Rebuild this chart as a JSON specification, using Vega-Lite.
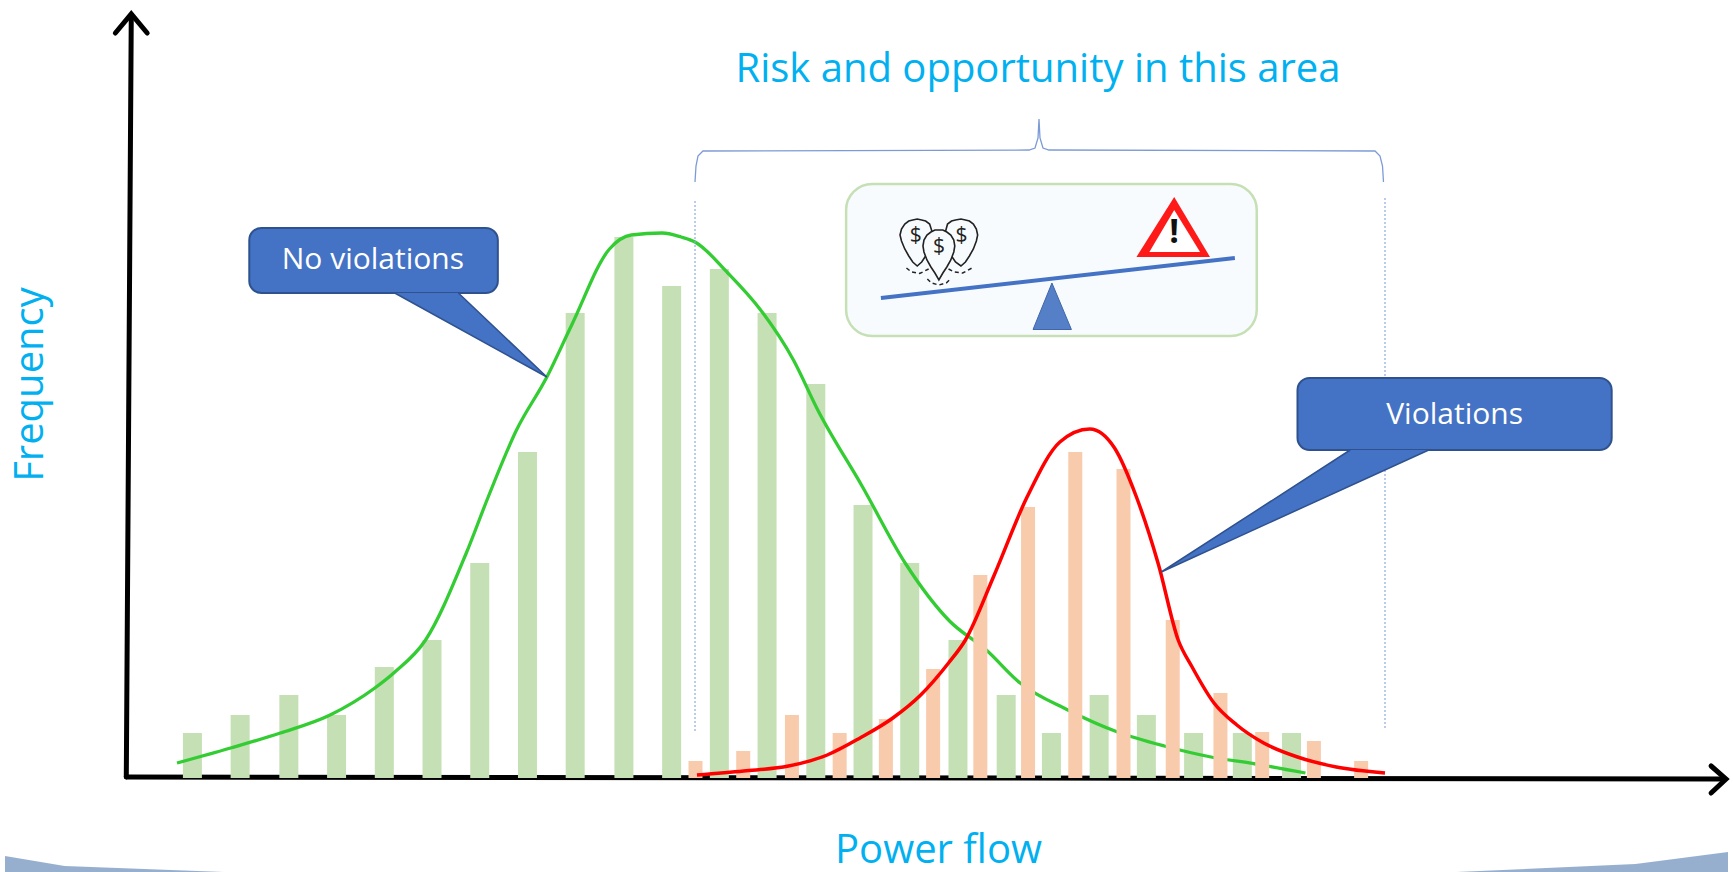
{
"$schema":"https://vega.github.io/schema/vega-lite/v6.json",
"width":1733,"height":872,"padding":0,"autosize":{"type":"none"},
"background":"white",
"config":{"view":{"stroke":null}},
"datasets":{
"noViolation":[
{"flow":188.5,"freq":45},{"flow":236.5,"freq":63},{"flow":285.5,"freq":83},{"flow":333.5,"freq":63},{"flow":381.5,"freq":111},{"flow":429.5,"freq":138},{"flow":477.5,"freq":215},{"flow":525.5,"freq":326},{"flow":573.5,"freq":465},{"flow":622.5,"freq":541},{"flow":670.5,"freq":492},{"flow":718.5,"freq":509},{"flow":766.5,"freq":465},{"flow":815.5,"freq":394},{"flow":863,"freq":273},{"flow":910,"freq":215},{"flow":958.5,"freq":138},{"flow":1007,"freq":83},{"flow":1052.5,"freq":45},{"flow":1100.5,"freq":83},{"flow":1148,"freq":63},{"flow":1195.5,"freq":45},{"flow":1244.5,"freq":45},{"flow":1294,"freq":45}],
"violation":[
{"flow":694.5,"freq":17},{"flow":742.5,"freq":27},{"flow":791.5,"freq":63},{"flow":839.5,"freq":45},{"flow":886,"freq":59},{"flow":933.5,"freq":109},{"flow":981,"freq":203},{"flow":1029,"freq":271},{"flow":1076.5,"freq":326},{"flow":1125,"freq":309},{"flow":1174.5,"freq":158},{"flow":1222.5,"freq":85},{"flow":1264.5,"freq":46},{"flow":1316.5,"freq":37},{"flow":1364,"freq":17}],
"greenCurve":[
{"flow":173,"freq":15},{"flow":227,"freq":30},{"flow":277,"freq":45},{"flow":327,"freq":63},{"flow":372,"freq":90},{"flow":391,"freq":105},{"flow":423,"freq":138},{"flow":464,"freq":225},{"flow":486,"freq":281},{"flow":514,"freq":347},{"flow":545,"freq":401},{"flow":570,"freq":453},{"flow":608,"freq":529},{"flow":630,"freq":543},{"flow":661,"freq":545},{"flow":680,"freq":541},{"flow":694,"freq":536},{"flow":727,"freq":505},{"flow":760,"freq":468},{"flow":793,"freq":418},{"flow":818,"freq":367},{"flow":862,"freq":292},{"flow":906,"freq":214},{"flow":950,"freq":157},{"flow":987,"freq":128},{"flow":1021,"freq":95},{"flow":1069,"freq":68},{"flow":1119,"freq":46},{"flow":1166,"freq":32},{"flow":1213,"freq":21},{"flow":1258,"freq":14},{"flow":1308,"freq":5}],
"redCurve":[
{"flow":696,"freq":3},{"flow":743,"freq":7},{"flow":788,"freq":12},{"flow":827,"freq":23},{"flow":860,"freq":40},{"flow":893,"freq":60},{"flow":921,"freq":83},{"flow":949,"freq":115},{"flow":966,"freq":138},{"flow":995,"freq":203},{"flow":1028,"freq":281},{"flow":1061,"freq":336},{"flow":1091,"freq":349},{"flow":1116,"freq":330},{"flow":1138,"freq":281},{"flow":1160,"freq":214},{"flow":1180,"freq":138},{"flow":1194,"freq":111},{"flow":1216,"freq":75},{"flow":1239,"freq":53},{"flow":1266,"freq":35},{"flow":1300,"freq":21},{"flow":1339,"freq":11},{"flow":1388,"freq":5}],
"axes":[
{"part":"yShadow","seq":1,"flow":125,"freq":0},{"part":"yShadow","seq":2,"flow":1716,"freq":-5},
{"part":"x","seq":1,"flow":122,"freq":1},{"part":"x","seq":2,"flow":1730,"freq":-1},
{"part":"xHead","seq":1,"flow":1716,"freq":12},{"part":"xHead","seq":2,"flow":1731,"freq":-1},{"part":"xHead","seq":3,"flow":1716,"freq":-15},
{"part":"y","seq":1,"flow":122,"freq":1},{"part":"y","seq":2,"flow":127,"freq":762},
{"part":"yHead","seq":1,"flow":111,"freq":745},{"part":"yHead","seq":2,"flow":127,"freq":764},{"part":"yHead","seq":3,"flow":143,"freq":745}],
"brace":[
{"seq":1,"flow":694,"freq":596},{"seq":2,"flow":695,"freq":612},{"seq":3,"flow":697,"freq":622},{"seq":4,"flow":702,"freq":627},{"seq":5,"flow":1030,"freq":628},{"seq":6,"flow":1036,"freq":630},{"seq":7,"flow":1039,"freq":640},{"seq":8,"flow":1040,"freq":659},{"seq":9,"flow":1041,"freq":640},{"seq":10,"flow":1044,"freq":630},{"seq":11,"flow":1050,"freq":628},{"seq":12,"flow":1378,"freq":627},{"seq":13,"flow":1383,"freq":622},{"seq":14,"flow":1385.5,"freq":612},{"seq":15,"flow":1386.5,"freq":596}],
"bounds":[
{"flow":694,"top":577,"bottom":46},{"flow":1388,"top":580,"bottom":49}],
"pins":[
{"pin":"a","flow":900.2,"up":543,"low":543},{"pin":"a","flow":901.7,"up":549,"low":537},{"pin":"a","flow":905,"up":554,"low":529},{"pin":"a","flow":909,"up":557,"low":522},{"pin":"a","flow":913,"up":558,"low":516},{"pin":"a","flow":917.5,"up":559,"low":512},{"pin":"a","flow":922,"up":558,"low":516},{"pin":"a","flow":926,"up":557,"low":522},{"pin":"a","flow":930,"up":554,"low":529},{"pin":"a","flow":933.5,"up":543,"low":537},
{"pin":"b","flow":945,"up":543,"low":537},{"pin":"b","flow":948,"up":554,"low":529},{"pin":"b","flow":952,"up":557,"low":522},{"pin":"b","flow":956,"up":558,"low":516},{"pin":"b","flow":961.5,"up":559,"low":512},{"pin":"b","flow":966,"up":558,"low":516},{"pin":"b","flow":970,"up":557,"low":522},{"pin":"b","flow":974,"up":554,"low":529},{"pin":"b","flow":977,"up":549,"low":537},{"pin":"b","flow":978.3,"up":543,"low":543},
{"pin":"c","flow":923.3,"up":532,"low":532},{"pin":"c","flow":924.3,"up":538,"low":526},{"pin":"c","flow":927.3,"up":543,"low":518},{"pin":"c","flow":931.3,"up":546,"low":511},{"pin":"c","flow":935.3,"up":548,"low":505},{"pin":"c","flow":939.3,"up":548,"low":498},{"pin":"c","flow":943.3,"up":548,"low":505},{"pin":"c","flow":947.3,"up":546,"low":511},{"pin":"c","flow":951.3,"up":543,"low":518},{"pin":"c","flow":954.3,"up":538,"low":526},{"pin":"c","flow":955.3,"up":532,"low":532}],
"dashes":[
{"arc":"a","seq":1,"flow":906.7,"freq":510},{"arc":"a","seq":2,"flow":911.7,"freq":506},{"arc":"a","seq":3,"flow":920,"freq":504.5},{"arc":"a","seq":4,"flow":929,"freq":509},
{"arc":"b","seq":1,"flow":949,"freq":509},{"arc":"b","seq":2,"flow":955,"freq":506},{"arc":"b","seq":3,"flow":963.3,"freq":505},{"arc":"b","seq":4,"flow":972.7,"freq":510},
{"arc":"c","seq":1,"flow":927.7,"freq":499},{"arc":"c","seq":2,"flow":931.7,"freq":495},{"arc":"c","seq":3,"flow":939.3,"freq":493},{"arc":"c","seq":4,"flow":946.7,"freq":495},{"arc":"c","seq":5,"flow":951,"freq":499}],
"tails":[
{"tail":"n","flow":392,"up":485,"low":485},{"tail":"n","flow":456,"up":485,"low":450},{"tail":"n","flow":545,"up":401,"low":401},
{"tail":"v","flow":1163,"up":206,"low":206},{"tail":"v","flow":1353,"up":328,"low":292},{"tail":"v","flow":1432,"up":328,"low":328}],
"tailEdges":[
{"tail":"n1","seq":1,"flow":392,"freq":485},{"tail":"n1","seq":2,"flow":545,"freq":401},{"tail":"n1","seq":3,"flow":456,"freq":485},
{"tail":"v1","seq":1,"flow":1353,"freq":328},{"tail":"v1","seq":2,"flow":1163,"freq":206},{"tail":"v1","seq":3,"flow":1432,"freq":328}],
"boxes":[
{"label":"No violations","x1":245.7,"x2":495.7,"y1":550,"y2":485},
{"label":"Violations","x1":1300,"x2":1616,"y1":400,"y2":328}]
},
"layer":[
{"data":{"values":[{"flow":0,"up":-94,"low":-78},{"flow":60,"up":-94,"low":-88},{"flow":220,"up":-94,"low":-94}]},
 "mark":{"type":"area","color":"#3F6EA8","opacity":0.55},
 "encoding":{"x":{"field":"flow","type":"quantitative","scale":{"domain":[0,1733],"nice":false,"zero":false},"axis":{"title":"Power flow","domain":false,"ticks":false,"labels":false,"grid":false,"titleFont":"Open Sans","titleFontSize":40,"titleFontWeight":"normal","titleColor":"#00B0F0","titleX":938,"titleY":-2,"titleBaseline":"bottom","titleAnchor":"middle","titleAlign":"center"}},
 "y":{"field":"up","type":"quantitative","scale":{"domain":[-94,778],"nice":false,"zero":false},"axis":{"title":"Frequency","domain":false,"ticks":false,"labels":false,"grid":false,"titleFont":"Open Sans","titleFontSize":40,"titleFontWeight":"normal","titleColor":"#00B0F0","titleX":50,"titleY":384,"titleAngle":-90,"titleAlign":"center","titleBaseline":"bottom"}},"y2":{"field":"low"}}},
{"data":{"values":[{"flow":1460,"up":-94,"low":-94},{"flow":1640,"up":-94,"low":-86},{"flow":1733,"up":-94,"low":-74}]},
 "mark":{"type":"area","color":"#3F6EA8","opacity":0.55},
 "encoding":{"x":{"field":"flow","type":"quantitative"},"y":{"field":"up","type":"quantitative"},"y2":{"field":"low"}}},
{"data":{"name":"axes"},"transform":[{"filter":"datum.part!='yShadow'"}],
 "mark":{"type":"line","color":"black","strokeWidth":5,"strokeCap":"round","strokeJoin":"miter"},
 "encoding":{"x":{"field":"flow","type":"quantitative"},"y":{"field":"freq","type":"quantitative"},"detail":{"field":"part"},"order":{"field":"seq"}}},
{"data":{"name":"noViolation"},"mark":{"type":"bar","color":"#C5E0B4","size":19},
 "encoding":{"x":{"field":"flow","type":"quantitative"},"y":{"field":"freq","type":"quantitative"},"y2":{"datum":0}}},
{"data":{"name":"greenCurve"},"mark":{"type":"line","color":"#33CC33","strokeWidth":3.3,"interpolate":"monotone"},
 "encoding":{"x":{"field":"flow","type":"quantitative"},"y":{"field":"freq","type":"quantitative"}}},
{"data":{"name":"violation"},"mark":{"type":"bar","color":"#F8CBAD","size":14},
 "encoding":{"x":{"field":"flow","type":"quantitative"},"y":{"field":"freq","type":"quantitative"},"y2":{"datum":0}}},
{"data":{"name":"redCurve"},"mark":{"type":"line","color":"#FF0000","strokeWidth":3.5,"interpolate":"monotone"},
 "encoding":{"x":{"field":"flow","type":"quantitative"},"y":{"field":"freq","type":"quantitative"}}},
{"data":{"name":"bounds"},"mark":{"type":"rule","color":"#8FAADC","strokeWidth":1.2,"strokeDash":[2,2]},
 "encoding":{"x":{"field":"flow","type":"quantitative"},"y":{"field":"top","type":"quantitative"},"y2":{"field":"bottom"}}},
{"data":{"name":"brace"},"mark":{"type":"line","color":"#7C9BD6","strokeWidth":1.3},
 "encoding":{"x":{"field":"flow","type":"quantitative"},"y":{"field":"freq","type":"quantitative"},"order":{"field":"seq"}}},
{"data":{"values":[{"x1":846,"x2":1259,"y1":594,"y2":442}]},"mark":{"type":"rect","fill":"#F8FBFE","stroke":"#C5E0B4","strokeWidth":2.5,"cornerRadius":26},
 "encoding":{"x":{"field":"x1","type":"quantitative"},"x2":{"field":"x2"},"y":{"field":"y1","type":"quantitative"},"y2":{"field":"y2"}}},
{"data":{"values":[{"seq":1,"flow":881,"freq":480},{"seq":2,"flow":1237,"freq":520}]},"mark":{"type":"line","color":"#4472C4","strokeWidth":4},
 "encoding":{"x":{"field":"flow","type":"quantitative"},"y":{"field":"freq","type":"quantitative"},"order":{"field":"seq"}}},
{"data":{"values":[{"flow":1034,"up":448.5,"low":448.5},{"flow":1053,"up":495,"low":448.5},{"flow":1072.6,"up":448.5,"low":448.5}]},"mark":{"type":"area","color":"#5580C8","stroke":"#3F66A8","strokeWidth":1},
 "encoding":{"x":{"field":"flow","type":"quantitative"},"y":{"field":"up","type":"quantitative"},"y2":{"field":"low"}}},
{"data":{"values":[{"flow":1138,"up":521,"low":521},{"flow":1176,"up":581,"low":521},{"flow":1212,"up":521,"low":521}]},"mark":{"type":"area","color":"#FF1A1A"},
 "encoding":{"x":{"field":"flow","type":"quantitative"},"y":{"field":"up","type":"quantitative"},"y2":{"field":"low"}}},
{"data":{"values":[{"flow":1151,"up":526,"low":526},{"flow":1176,"up":568,"low":526},{"flow":1202,"up":526,"low":526}]},"mark":{"type":"area","color":"#FFFFFF"},
 "encoding":{"x":{"field":"flow","type":"quantitative"},"y":{"field":"up","type":"quantitative"},"y2":{"field":"low"}}},
{"data":{"values":[{"flow":1176,"freq":545,"t":"!"}]},"mark":{"type":"text","font":"Open Sans","fontWeight":"bold","fontSize":34,"color":"#111111","baseline":"middle","align":"center"},
 "encoding":{"x":{"field":"flow","type":"quantitative"},"y":{"field":"freq","type":"quantitative"},"text":{"field":"t"}}},
{"data":{"name":"pins"},"mark":{"type":"area","color":"#F8FBFE","stroke":"#222222","strokeWidth":1.6},
 "encoding":{"x":{"field":"flow","type":"quantitative"},"y":{"field":"up","type":"quantitative"},"y2":{"field":"low"},"detail":{"field":"pin"}}},
{"data":{"name":"dashes"},"mark":{"type":"line","color":"#222222","strokeWidth":1.5,"strokeDash":[4,3]},
 "encoding":{"x":{"field":"flow","type":"quantitative"},"y":{"field":"freq","type":"quantitative"},"detail":{"field":"arc"},"order":{"field":"seq"}}},
{"data":{"values":[{"flow":916,"freq":542,"t":"$"},{"flow":962,"freq":542,"t":"$"},{"flow":939.3,"freq":531,"t":"$"}]},"mark":{"type":"text","font":"Open Sans","fontSize":21,"color":"#222222","baseline":"middle","align":"center"},
 "encoding":{"x":{"field":"flow","type":"quantitative"},"y":{"field":"freq","type":"quantitative"},"text":{"field":"t"}}},
{"data":{"name":"boxes"},"mark":{"type":"rect","fill":"#4472C4","stroke":"#2F528F","strokeWidth":2,"cornerRadius":12},
 "encoding":{"x":{"field":"x1","type":"quantitative"},"x2":{"field":"x2"},"y":{"field":"y1","type":"quantitative"},"y2":{"field":"y2"}}},
{"data":{"name":"tails"},"mark":{"type":"area","color":"#4472C4"},
 "encoding":{"x":{"field":"flow","type":"quantitative"},"y":{"field":"up","type":"quantitative"},"y2":{"field":"low"},"detail":{"field":"tail"}}},
{"data":{"name":"tailEdges"},"mark":{"type":"line","color":"#2F528F","strokeWidth":1.5},
 "encoding":{"x":{"field":"flow","type":"quantitative"},"y":{"field":"freq","type":"quantitative"},"detail":{"field":"tail"},"order":{"field":"seq"}}},
{"data":{"values":[{"flow":370,"freq":518,"t":"No violations"},{"flow":1458,"freq":363,"t":"Violations"}]},"mark":{"type":"text","font":"Open Sans","fontSize":30,"color":"white","baseline":"middle","align":"center"},
 "encoding":{"x":{"field":"flow","type":"quantitative"},"y":{"field":"freq","type":"quantitative"},"text":{"field":"t"}}},
{"data":{"values":[{"flow":1039,"freq":708,"t":"Risk and opportunity in this area"}]},"mark":{"type":"text","font":"Open Sans","fontSize":40,"color":"#00B0F0","baseline":"middle","align":"center"},
 "encoding":{"x":{"field":"flow","type":"quantitative"},"y":{"field":"freq","type":"quantitative"},"text":{"field":"t"}}}
]
}
